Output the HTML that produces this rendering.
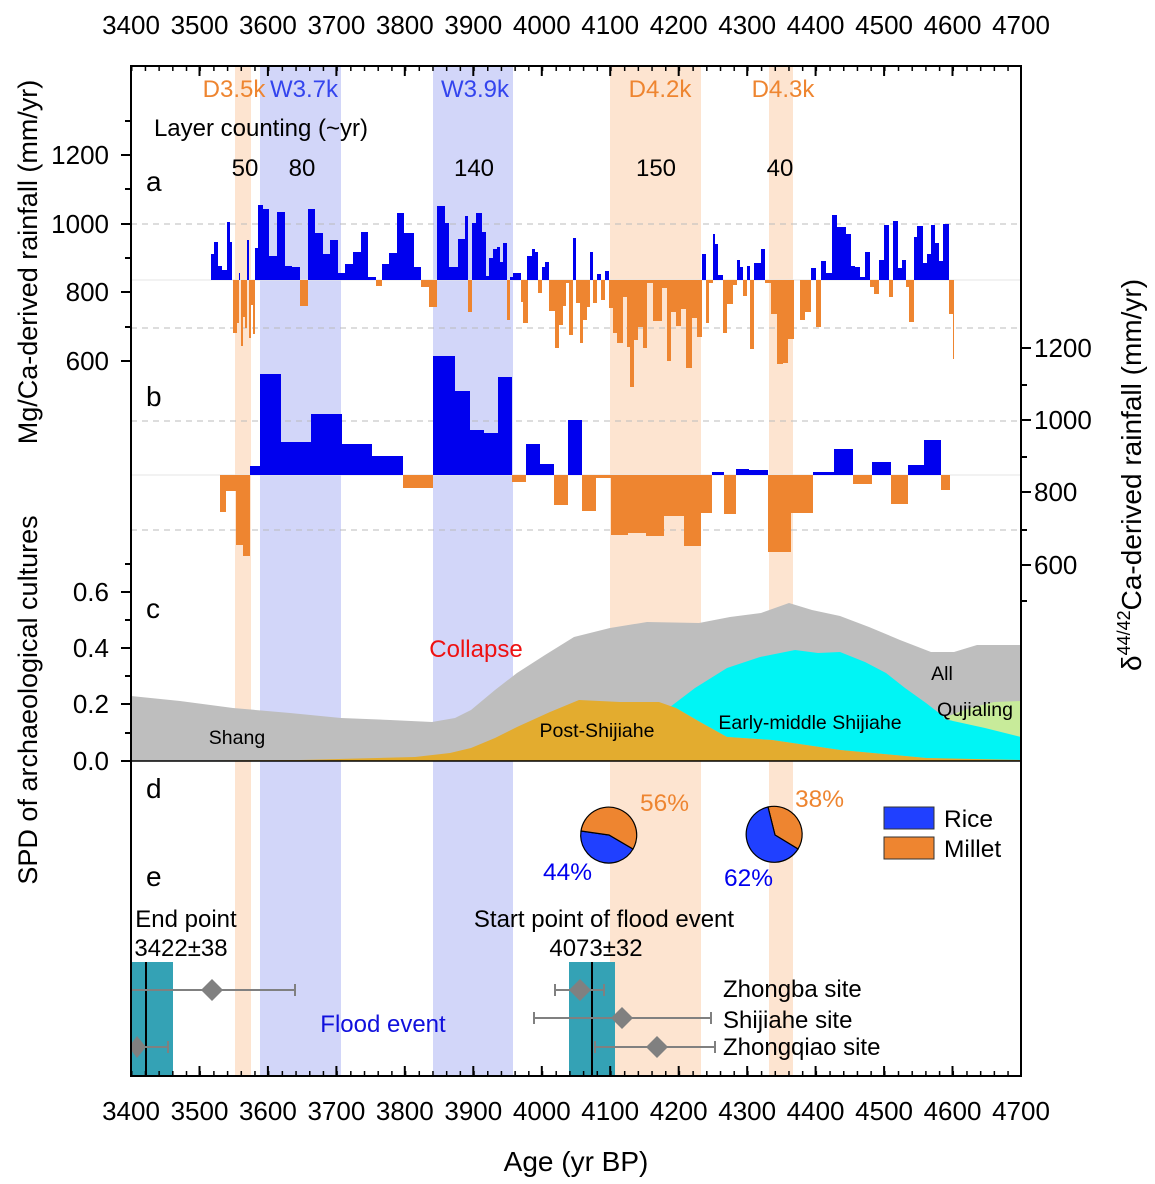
<!DOCTYPE html>
<html><head><meta charset="utf-8"><style>
html,body{margin:0;padding:0;background:#fff}
svg{display:block;font-family:"Liberation Sans",Arial,sans-serif}
</style></head><body>
<svg width="1155" height="1184" viewBox="0 0 1155 1184" xmlns="http://www.w3.org/2000/svg">
<defs>
<pattern id="mt" x="131" y="0" width="13.6923" height="1184" patternUnits="userSpaceOnUse">
<rect x="0" y="0" width="1.5" height="1184" fill="#000"/>
</pattern>
</defs>
<g>
<rect x="235" y="66" width="16" height="1010" fill="#fde4d0"/>
<rect x="260" y="66" width="81" height="1010" fill="#d2d6f9"/>
<rect x="433" y="66" width="80" height="1010" fill="#d2d6f9"/>
<rect x="610" y="66" width="91" height="1010" fill="#fde4d0"/>
<rect x="769" y="66" width="24" height="1010" fill="#fde4d0"/>
</g>
<g stroke="#bbb" stroke-width="1" stroke-dasharray="6,5">
<line x1="131" y1="224" x2="1021" y2="224"/><line x1="131" y1="328" x2="1021" y2="328"/>
<line x1="131" y1="421" x2="1021" y2="421"/><line x1="131" y1="530" x2="1021" y2="530"/>
</g>
<g stroke="#e4e4e4" stroke-width="1">
<line x1="131" y1="280" x2="1021" y2="280"/><line x1="131" y1="475" x2="1021" y2="475"/>
</g>
<path fill="#0000ee" d="M211 280V254H214V280ZM214 280V242H218V280ZM218 280V266H222V280ZM222 280V270H227V280ZM227 280V222H230V280ZM230 280V242H232V280ZM239 280V273H240V280ZM247 280V240H249V280ZM255 280V248H258V280ZM258 280V205H263V280ZM263 280V209H269V280ZM269 280V256H277V280ZM277 280V212H285V280ZM285 280V266H292V280ZM292 280V267H300V280ZM308 280V209H315V280ZM315 280V233H323V280ZM323 280V254H330V280ZM330 280V240H338V280ZM338 280V273H345V280ZM345 280V264H353V280ZM353 280V252H361V280ZM361 280V232H368V280ZM368 280V277H376V280ZM382 280V264H389V280ZM389 280V253H397V280ZM397 280V213H404V280ZM404 280V233H414V280ZM414 280V267H421V280ZM437 280V206H445V280ZM445 280V223H449V280ZM449 280V267H458V280ZM458 280V239H465V280ZM465 280V216H468V280ZM472 280V223H476V280ZM476 280V213H482V280ZM482 280V232H486V280ZM486 280V276H489V280ZM489 280V258H493V280ZM493 280V249H497V280ZM497 280V247H500V280ZM500 280V262H503V280ZM503 280V243H507V280ZM510 280V277H513V280ZM513 280V273H521V280ZM527 280V256H532V280ZM532 280V249H535V280ZM535 280V252H538V280ZM542 280V267H545V280ZM545 280V262H549V280ZM573 280V238H576V280ZM590 280V252H593V280ZM597 280V274H601V280ZM605 280V271H609V280ZM702 280V254H706V280ZM713 280V234H715V280ZM715 280V244H718V280ZM718 280V275H723V280ZM737 280V260H740V280ZM740 280V267H743V280ZM747 280V266H750V280ZM754 280V263H761V280ZM761 280V249H765V280ZM811 280V268H816V280ZM821 280V261H826V280ZM826 280V273H832V280ZM832 280V215H837V280ZM837 280V227H846V280ZM846 280V234H851V280ZM851 280V266H855V280ZM855 280V267H860V280ZM860 280V277H865V280ZM865 280V252H870V280ZM879 280V260H884V280ZM884 280V225H889V280ZM893 280V221H898V280ZM898 280V268H902V280ZM902 280V260H906V280ZM914 280V237H917V280ZM917 280V226H923V280ZM923 280V263H927V280ZM927 280V254H931V280ZM931 280V225H935V280ZM935 280V243H939V280ZM939 280V261H943V280ZM943 280V224H949V280Z"/>
<path fill="#ee8530" d="M233 280V333H237V280ZM237 280V323H239V280ZM241 280V346H243V280ZM243 280V317H245V280ZM245 280V328H247V280ZM249 280V338H251V280ZM251 280V305H253V280ZM253 280V334H255V280ZM300 280V306H308V280ZM376 280V286H382V280ZM421 280V287H429V280ZM429 280V307H437V280ZM468 280V312H472V280ZM507 280V320H510V280ZM521 280V302H523V280ZM523 280V323H528V280ZM538 280V293H542V280ZM549 280V311H555V280ZM555 280V348H559V280ZM559 280V325H563V280ZM563 280V306H566V280ZM566 280V283H569V280ZM569 280V335H573V280ZM576 280V303H580V280ZM580 280V343H583V280ZM583 280V320H587V280ZM587 280V307H590V280ZM593 280V303H597V280ZM601 280V300H605V280ZM609 280V308H613V280ZM613 280V333H617V280ZM617 280V343H623V280ZM623 280V297H627V280ZM627 280V347H630V280ZM630 280V387H634V280ZM634 280V340H638V280ZM638 280V327H643V280ZM643 280V348H647V280ZM647 280V283H653V280ZM653 280V321H662V280ZM662 280V288H667V280ZM667 280V361H671V280ZM671 280V312H676V280ZM676 280V326H681V280ZM681 280V309H686V280ZM686 280V368H692V280ZM692 280V318H697V280ZM697 280V337H702V280ZM706 280V323H709V280ZM709 280V283H713V280ZM723 280V333H727V280ZM727 280V304H733V280ZM733 280V285H737V280ZM743 280V296H747V280ZM750 280V349H754V280ZM765 280V283H771V280ZM771 280V314H777V280ZM777 280V364H783V280ZM783 280V363H788V280ZM788 280V339H794V280ZM800 280V320H805V280ZM805 280V312H811V280ZM816 280V327H821V280ZM870 280V287H874V280ZM874 280V294H879V280ZM889 280V297H893V280ZM906 280V287H909V280ZM909 280V322H914V280ZM949 280V314H953V280ZM953 280V359H954V280Z"/>
<path fill="#0000ee" d="M250 475V466H260V475ZM260 475V374H281V475ZM281 475V442H311V475ZM311 475V414H342V475ZM342 475V444H372V475ZM372 475V456H403V475ZM433 475V356H455V475ZM455 475V391H470V475ZM470 475V430H484V475ZM484 475V433H498V475ZM498 475V377H512V475ZM526 475V444H540V475ZM540 475V464H554V475ZM568 475V420H582V475ZM712 475V472H724V475ZM736 475V469H749V475ZM749 475V470H768V475ZM813 475V472H834V475ZM834 475V449H853V475ZM872 475V462H891V475ZM908 475V465H924V475ZM924 475V440H941V475Z"/>
<path fill="#ee8530" d="M220 475V512H226V475ZM226 475V491H236V475ZM236 475V545H243V475ZM243 475V556H250V475ZM403 475V488H433V475ZM512 475V482H526V475ZM554 475V505H568V475ZM582 475V511H596V475ZM596 475V478H611V475ZM611 475V535H628V475ZM628 475V533H646V475ZM646 475V536H664V475ZM664 475V516H684V475ZM684 475V546H701V475ZM701 475V513H712V475ZM724 475V514H736V475ZM768 475V552H791V475ZM791 475V513H813V475ZM853 475V484H872V475ZM891 475V504H908V475ZM941 475V490H950V475Z"/>
<path fill="#bebebe" d="M131 761V696L180 701L233 708L290 713L341 718L390 720L432 722L455 718L471 710L495 690L517 673L545 655L574 637L610 628L647 622L699 623L730 617L761 613L789 603L812 610L840 616L869 627L900 640L931 652L954 652L977 645L1021 645V761Z"/>
<path fill="#00f5f5" d="M670 707L695 688L727 668L760 657L795 650L818 653L840 652L865 662L886 673L905 688L926 703L948 720L985 725L1021 728V761L926 758L840 750L772 740L727 737L700 722L676 708Z"/>
<path fill="#c8eb9a" d="M943 718L970 708L994 702L1021 701V737L985 728L953 721Z"/>
<path fill="#e3ac2f" d="M131 761L300 760L415 757L450 753L471 748L495 738L517 727L550 712L579 700L620 702L659 702L676 708L700 722L727 737L772 740L840 750L926 758L1021 760V761Z"/>
<line x1="131" y1="761" x2="1021" y2="761" stroke="#000" stroke-width="1.5"/>
<rect x="131" y="962" width="42" height="114" fill="#34a2b5"/>
<rect x="569" y="962" width="46" height="114" fill="#34a2b5"/>
<line x1="146" y1="962" x2="146" y2="1076" stroke="#000" stroke-width="2"/>
<line x1="592" y1="962" x2="592" y2="1076" stroke="#000" stroke-width="2"/>
<g stroke="#808080" stroke-width="2" fill="none">
<path d="M131 990H295M295 984V996"/>
<path d="M131 1047H168M168 1041V1053"/>
<path d="M555 990H604M555 984V996M604 984V996"/>
<path d="M534 1018H711M534 1012V1024M711 1012V1024"/>
<path d="M595 1047H715M595 1041V1053M715 1041V1053"/>
</g>
<g fill="#808080">
<path d="M212 979L223 990L212 1001L201 990Z"/>
<path d="M137 1036L146 1047L137 1058L131 1050V1044Z"/>
<path d="M580 979L591 990L580 1001L569 990Z"/>
<path d="M622 1007L633 1018L622 1029L611 1018Z"/>
<path d="M657 1036L668 1047L657 1058L646 1047Z"/>
</g>
<g stroke="#000" stroke-width="1.2">
<path d="M609 835L633 849A28 28 0 0 1 581 831Z" fill="#2040ff"/>
<path d="M609 835L581 831A28 28 0 1 1 633 849Z" fill="#ee8530"/>
<path d="M775 835L768 807A28 28 0 0 1 798 849Z" fill="#ee8530"/>
<path d="M775 835L798 849A28 28 0 1 1 768 807Z" fill="#2040ff"/>
</g>
<rect x="884" y="807" width="50" height="22" fill="#2040ff" stroke="#333" stroke-width="1"/>
<rect x="884" y="837" width="50" height="22" fill="#ee8530" stroke="#333" stroke-width="1"/>
<g font-size="24.5">
<text x="944" y="827">Rice</text>
<text x="944" y="857">Millet</text>
<text x="640" y="811" fill="#ee8530">56%</text>
<text x="543" y="880" fill="#0000ee">44%</text>
<text x="795" y="807" fill="#ee8530">38%</text>
<text x="724" y="886" fill="#0000ee">62%</text>
</g>
<rect x="131" y="66" width="890" height="1010" fill="none" stroke="#000" stroke-width="2"/>
<rect x="131" y="66" width="890" height="5" fill="url(#mt)"/>
<rect x="131" y="1071" width="890" height="5" fill="url(#mt)"/>
<g stroke="#000" stroke-width="2">
<path d="M199.5 66v10M267.9 66v10M336.4 66v10M404.8 66v10M473.3 66v10M541.8 66v10M610.2 66v10M678.7 66v10M747.2 66v10M815.6 66v10M884.1 66v10M952.5 66v10"/>
<path d="M199.5 1076v-10M267.9 1076v-10M336.4 1076v-10M404.8 1076v-10M473.3 1076v-10M541.8 1076v-10M610.2 1076v-10M678.7 1076v-10M747.2 1076v-10M815.6 1076v-10M884.1 1076v-10M952.5 1076v-10"/>
<path d="M131 155h-10M131 224h-10M131 292h-10M131 361h-10M131 189h-6M131 258h-6M131 327h-6M131 121h-6"/>
<path d="M131 592h-10M131 648h-10M131 704h-10M131 761h-10M131 620h-6M131 676h-6M131 733h-6M131 564h-6"/>
<path d="M1021 348h10M1021 420h10M1021 492h10M1021 565h10M1021 385h6M1021 457h6M1021 530h6M1021 601h6"/>
</g>
<g font-size="26" text-anchor="middle">
<text x="131" y="34">3400</text><text x="199.5" y="34">3500</text><text x="267.9" y="34">3600</text><text x="336.4" y="34">3700</text><text x="404.8" y="34">3800</text><text x="473.3" y="34">3900</text><text x="541.8" y="34">4000</text><text x="610.2" y="34">4100</text><text x="678.7" y="34">4200</text><text x="747.2" y="34">4300</text><text x="815.6" y="34">4400</text><text x="884.1" y="34">4500</text><text x="952.5" y="34">4600</text><text x="1021" y="34">4700</text>
<text x="131" y="1120">3400</text><text x="199.5" y="1120">3500</text><text x="267.9" y="1120">3600</text><text x="336.4" y="1120">3700</text><text x="404.8" y="1120">3800</text><text x="473.3" y="1120">3900</text><text x="541.8" y="1120">4000</text><text x="610.2" y="1120">4100</text><text x="678.7" y="1120">4200</text><text x="747.2" y="1120">4300</text><text x="815.6" y="1120">4400</text><text x="884.1" y="1120">4500</text><text x="952.5" y="1120">4600</text><text x="1021" y="1120">4700</text>
<text x="576" y="1171" font-size="28">Age (yr BP)</text>
</g>
<g font-size="26" text-anchor="end">
<text x="109" y="164">1200</text><text x="109" y="233">1000</text><text x="109" y="301">800</text><text x="109" y="370">600</text>
<text x="109" y="601">0.6</text><text x="109" y="657">0.4</text><text x="109" y="713">0.2</text><text x="109" y="770">0.0</text>
</g>
<g font-size="26">
<text x="1034" y="357">1200</text><text x="1034" y="429">1000</text><text x="1034" y="501">800</text><text x="1034" y="574">600</text>
</g>
<text transform="translate(37,262) rotate(-90)" font-size="27" text-anchor="middle">Mg/Ca-derived rainfall (mm/yr)</text>
<text transform="translate(37,700) rotate(-90)" font-size="27" text-anchor="middle">SPD of archaeological cultures</text>
<text transform="translate(1141,475) rotate(-90)" font-size="28" text-anchor="middle">δ<tspan font-size="18" dy="-11">44/42</tspan><tspan dy="11">Ca-derived rainfall (mm/yr)</tspan></text>
<g font-size="28">
<text x="146" y="191">a</text><text x="146" y="406">b</text><text x="146" y="618">c</text><text x="146" y="798">d</text><text x="146" y="886">e</text>
</g>
<g font-size="24" text-anchor="middle">
<text x="234" y="97" fill="#ee8530">D3.5k</text>
<text x="304" y="97" fill="#3344ee">W3.7k</text>
<text x="475" y="97" fill="#3344ee">W3.9k</text>
<text x="660" y="97" fill="#ee8530">D4.2k</text>
<text x="783" y="97" fill="#ee8530">D4.3k</text>
<text x="261" y="136">Layer counting (~yr)</text>
<text x="245" y="176">50</text><text x="302" y="176">80</text><text x="474" y="176">140</text><text x="656" y="176">150</text><text x="780" y="176">40</text>
<text x="476" y="657" fill="#ee1111">Collapse</text>
<text x="186" y="927">End point</text>
<text x="181" y="956">3422±38</text>
<text x="604" y="927">Start point of flood event</text>
<text x="596" y="956">4073±32</text>
<text x="383" y="1032" fill="#1010dd">Flood event</text>
</g>
<g font-size="19.5" text-anchor="middle">
<text x="237" y="744">Shang</text>
<text x="597" y="737">Post-Shijiahe</text>
<text x="810" y="729">Early-middle Shijiahe</text>
<text x="942" y="680">All</text>
<text x="975" y="716">Qujialing</text>
</g>
<g font-size="24">
<text x="723" y="997">Zhongba site</text>
<text x="723" y="1028">Shijiahe site</text>
<text x="723" y="1055">Zhongqiao site</text>
</g>
</svg>
</body></html>
